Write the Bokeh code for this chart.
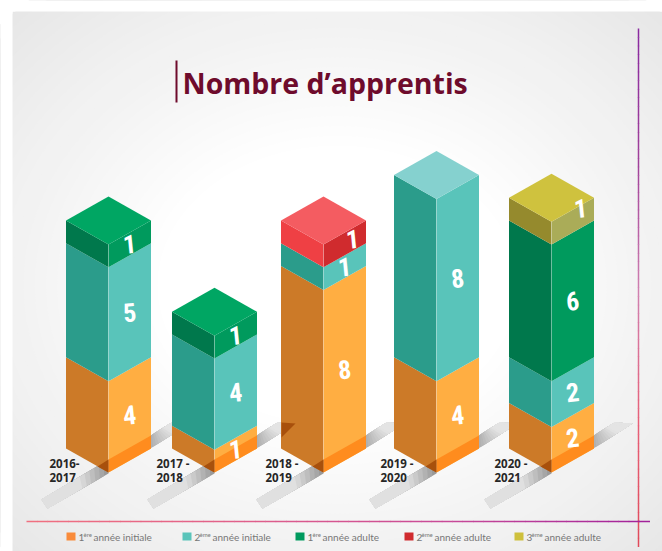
from bokeh.plotting import figure
from bokeh.models import Range1d
from bokeh.embed import file_html
from bokeh.resources import INLINE
from bokeh.core.properties import value

# ---- data ----
years_a = ["2016-", "2017 -", "2018 -", "2019 -", "2020 -"]
years_b = ["2017", "2018", "2019", "2020", "2021"]
initiale_1 = [4, 1, 8, 4, 2]
initiale_2 = [5, 4, 1, 8, 2]
adulte_1 = [1, 1, 0, 0, 6]
adulte_2 = [0, 0, 1, 0, 0]
adulte_3 = [0, 0, 0, 0, 1]
series_names = ["1|ère|année  initiale", "2|ème|année initiale", "1|ère|année adulte",
                "2|ème|année adulte", "3|ème|année adulte"]
title_text = "Nombre d’apprentis"

# ---- layout / style ----
W, H = 662, 551
UNIT = 22.8          # pixels per apprentice
BASE_PY = 448        # page y of the left/right bottom corners (value 0)
CENTERS = [108, 214, 323, 436, 551]
LABEL_X = [49, 156, 265, 380, 494]
HALF = 42.5
DY = 24 / UNIT


def yu(py):
    return (BASE_PY - py) / UNIT


FACES = [  # left, right, top
    ("#CC7A28", "#FFAE42", "#FFC070"),
    ("#2B9C8B", "#59C4BA", "#85D1CF"),
    ("#00784C", "#009A5D", "#00A663"),
    ("#EF4044", "#D02B2E", "#F45C61"),
    ("#958A2D", "#AAAC58", "#CFC23E"),
]
LEGEND_COL = ["#F98B3B", "#5AC4BA", "#009A5E", "#D02B2E", "#CEC03C"]
LEGEND_X = [66, 182, 295, 404, 514]
LEGEND_REST = [27, 30, 27, 30, 30]
series = [initiale_1, initiale_2, adulte_1, adulte_2, adulte_3]
DIGIT_FONT = value("'Roboto Condensed','DejaVu Sans Condensed',Roboto")


def mix(a, b, t):
    ca = [int(a[i:i + 2], 16) for i in (1, 3, 5)]
    cb = [int(b[i:i + 2], 16) for i in (1, 3, 5)]
    return "#%02x%02x%02x" % tuple(round(x + (y - x) * t) for x, y in zip(ca, cb))


p = figure(width=W, height=H, x_range=Range1d(0, W), y_range=Range1d(yu(H), yu(0)),
           output_backend="svg", toolbar_location=None, min_border=0,
           background_fill_color="#ffffff", border_fill_color="#ffffff", outline_line_color=None)
p.axis.visible = False
p.grid.visible = False


def poly(pts, color, alpha=1.0):
    p.patch([q[0] for q in pts], [yu(q[1]) for q in pts], fill_color=color, fill_alpha=alpha,
            line_color=None)


def lerp(u, v, t):
    return (u[0] + (v[0] - u[0]) * t, u[1] + (v[1] - u[1]) * t)


# ---- panel background: soft radial fade ----
poly([(12, 11), (662, 11), (662, 551), (12, 551)], "#e6e6e6")
STEPS = 26
for k in range(1, STEPS + 1):
    t = k / STEPS
    p.ellipse([337], [yu(285)], width=[2 * (470 - 290 * t)], height=[2 * (395 - 255 * t)],
              width_units="screen", height_units="screen",
              fill_color=mix("#e6e6e6", "#ffffff", t), line_color=None)
# keep the white page margin clean
poly([(0, 0), (12, 0), (12, 551), (0, 551)], "#ffffff")
poly([(0, 0), (662, 0), (662, 11), (0, 11)], "#ffffff")

# ---- floor shadows ----
N = 14
for c in CENTERS:
    # lower-left band: every step covers up to the far end, so no seams show
    a0, a1 = (c, 459), (c, 473)
    b0, b1 = (c - 67, 499), (c - 61, 508)
    for k in range(N):
        t0 = k / N
        col = mix("#9a9a9a", "#e0e0e0", min(1, t0 / 0.42))
        poly([lerp(a0, b0, t0), b0, b1, lerp(a1, b1, t0)], col)
    # upper-right band
    a0, a1 = (c + 42, 435), (c + 42, 448)
    b0, b1 = (c + 63, 422), (c + 81, 423)
    for k in range(N):
        t0 = k / N
        col = mix("#b0b0b0", "#e4e4e4", min(1, t0 / 0.6))
        poly([lerp(a0, b0, t0), b0, b1, lerp(a1, b1, t0)], col)

# ---- stacked isometric bars ----
for i, c in enumerate(CENTERS):
    base = 0
    last = 0
    for s, vals in enumerate(series):
        v = vals[i]
        if v == 0:
            continue
        a, b = base, base + v
        left, right, top = FACES[s]
        p.patch([c - HALF, c, c, c - HALF], [a, a - DY, b - DY, b], fill_color=left, line_color=None)
        p.patch([c, c + HALF, c + HALF, c], [a - DY, a, b, b - DY], fill_color=right, line_color=None)
        base = b
        last = s
    p.patch([c - HALF, c, c + HALF, c], [base, base + DY, base, base - DY],
            fill_color=FACES[last][2], line_color=None)
    # light front edge
    p.line([c, c], [-DY, base - DY], line_color="#ffffff", line_alpha=0.25, line_width=1)
    # shadow strip crossing the bar foot
    poly([(c, 472), (c, 459), (c + HALF, 435), (c + HALF, 448)], "#FF8C1E")
    poly([(c - 11, 466), (c, 459), (c, 472)], "#A8500C")

# shadow of the second bar falling on the third bar
poly([(281, 422), (295, 423), (281, 437)], "#A8500C")

# ---- value labels on the right faces ----
LABEL_OFFS = {(2, 3): (8, 5), (4, 4): (8, 13)}
for i, c in enumerate(CENTERS):
    base = 0
    for s, vals in enumerate(series):
        v = vals[i]
        if v == 0:
            continue
        ox, oy = LABEL_OFFS.get((i, s), (0, 0))
        y = base + v / 2 - DY / 2 + oy / UNIT
        p.text([c + 21 + ox], [y], text=[str(v)], text_color="#ffffff",
               text_font=DIGIT_FONT, text_font_style="bold",
               text_font_size="26px", text_align="center", text_baseline="middle", angle=0.1)
        base += v

# ---- category labels ----
for lx, la, lb in zip(LABEL_X, years_a, years_b):
    p.text([lx], [yu(463)], text=[la], text_color="#262626", text_font=value("Open Sans"),
           text_font_style="bold", text_font_size="11.5px", text_baseline="middle")
    p.text([lx], [yu(477)], text=[lb], text_color="#262626", text_font=value("Open Sans"),
           text_font_style="bold", text_font_size="11.5px", text_baseline="middle")

# ---- title ----
poly([(175, 60), (177, 60), (177, 102), (175, 102)], "#6E0B2C")
p.text([182], [yu(82)], text=[title_text], text_color="#6E0B2C", text_font=value("Open Sans"),
       text_font_style="bold", text_font_size="28.5px", text_baseline="middle")

# ---- rules ----
stops_h = ["#F07080", "#E0608A", "#C84A98", "#A0209A"]
stops_v = ["#8A2AA0", "#A0409A", "#D080B0", "#E86078", "#E04858"]


def ramp(stops, t):
    t = t * (len(stops) - 1)
    k = min(int(t), len(stops) - 2)
    return mix(stops[k], stops[k + 1], t - k)


NS = 60
for k in range(NS):
    x0 = 26 + (649 - 26) * k / NS
    x1 = 26 + (649 - 26) * (k + 1) / NS
    p.line([x0, x1 + 0.5], [yu(521)] * 2, line_color=ramp(stops_h, k / NS), line_width=1.5)
    y0 = 28 + (546 - 28) * k / NS
    y1 = 28 + (546 - 28) * (k + 1) / NS
    p.line([638, 638], [yu(y0), yu(y1 + 0.5)], line_color=ramp(stops_v, k / NS), line_width=1.5)

# ---- legend ----
for lx, col, name, rx in zip(LEGEND_X, LEGEND_COL, series_names, LEGEND_REST):
    poly([(lx, 532), (lx + 9, 532), (lx + 9, 540), (lx, 540)], col)
    n, sup, rest = name.split("|")
    p.text([lx + 12], [yu(536.5)], text=[n], text_color="#777777", text_font=value("Lato"),
           text_font_size="10px", text_baseline="middle")
    p.text([lx + 17], [yu(534)], text=[sup], text_color="#777777", text_font=value("Lato"),
           text_font_size="6px", text_baseline="middle")
    p.text([lx + rx], [yu(536.5)], text=[rest], text_color="#777777", text_font=value("Lato"),
           text_font_size="10px", text_baseline="middle")

open("out.html", "w").write(file_html(p, INLINE))
